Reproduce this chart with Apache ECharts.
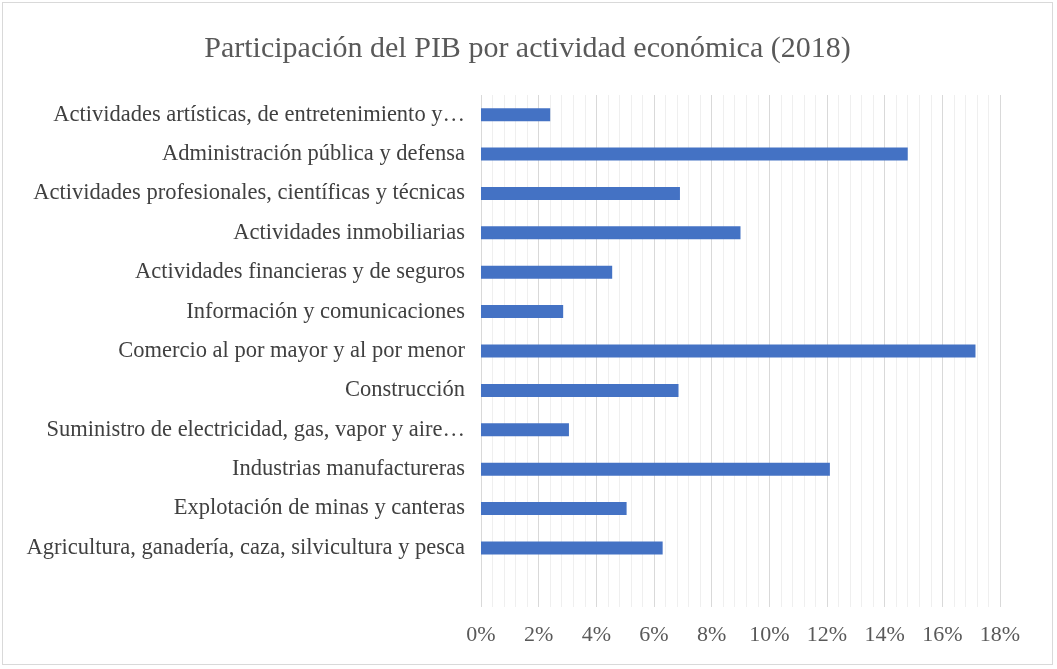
<!DOCTYPE html>
<html>
<head>
<meta charset="utf-8">
<script src="https://cdn.jsdelivr.net/npm/echarts@6/dist/echarts.min.js"></script>
<style>
    html, body { margin: 0; padding: 0; background: #fff; }
    #chart {
        position: absolute;
        left: 2px; top: 2px;
        width: 1049px; height: 661px;
        border: 1px solid #d9d9d9;
    }
</style>
</head>
<body>
<div id="chart"></div>
<script>
    // actividades, de arriba hacia abajo (la última fila del rango está vacía)
    const actividades = [
        'Actividades artísticas, de entretenimiento y…',
        'Administración pública y defensa',
        'Actividades profesionales, científicas y técnicas',
        'Actividades inmobiliarias',
        'Actividades financieras y de seguros',
        'Información y comunicaciones',
        'Comercio al por mayor y al por menor',
        'Construcción',
        'Suministro de electricidad, gas, vapor y aire…',
        'Industrias manufactureras',
        'Explotación de minas y canteras',
        'Agricultura, ganadería, caza, silvicultura y pesca',
        ''
    ]
    // participación en %
    const participacion = [2.4, 14.8, 6.9, 9.0, 4.55, 2.85, 17.15, 6.85, 3.05, 12.1, 5.05, 6.3, null]

    const ticks = [0, 2, 4, 6, 8, 10, 12, 14, 16, 18]

    const chart = echarts.init(document.getElementById('chart'))
    const fontFamily = '"Liberation Serif", "Times New Roman", serif'

    chart.setOption({
        animation: false,
        textStyle: { fontFamily: fontFamily },
        title: {
            text: 'Participación del PIB por actividad económica (2018)',
            left: 'center',
            top: 26,
            textStyle: { fontFamily: fontFamily, fontSize: 30, fontWeight: 'normal', color: '#595959' }
        },
        grid: { left: 478, right: 52, top: 92, bottom: 57 },
        xAxis: {
            type: 'value',
            min: ticks[0],
            max: ticks[ticks.length - 1],
            interval: 2,
            axisLine: { show: false },
            axisTick: { show: false },
            axisLabel: {
                formatter: '{value}%',
                fontSize: 22,
                color: '#595959',
                margin: 17,
                fontFamily: fontFamily
            },
            splitLine: { show: true, lineStyle: { color: '#d9d9d9', width: 1 } },
            minorTick: { show: false, splitNumber: 5 },
            minorSplitLine: { show: true, lineStyle: { color: '#efefef', width: 1 } }
        },
        yAxis: {
            type: 'category',
            inverse: true,
            data: actividades,
            axisLine: { show: false },
            axisTick: { show: false },
            axisLabel: { fontSize: 22.5, color: '#404040', margin: 16, fontFamily: fontFamily }
        },
        series: [{
            type: 'bar',
            data: participacion,
            barWidth: 13,
            itemStyle: { color: '#4472C4' }
        }]
    })
</script>
</body>
</html>
